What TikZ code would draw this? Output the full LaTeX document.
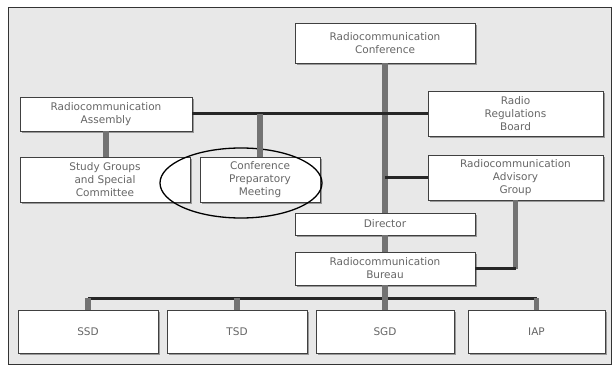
\documentclass[tikz,border=0pt]{standalone}
\usepackage{fontspec}
\setmainfont{DejaVu Sans}
\usepackage{tikz}
\usetikzlibrary{shapes.geometric}
\usetikzlibrary{shadows}

\begin{document}
\begin{tikzpicture}[x=1pt, y=-1pt,
        unit/.style={draw=black!75, line width=0.8pt, fill=white, align=center,
            text=black!60, font=\fontsize{10.5}{13}\selectfont, inner sep=2pt,
            general shadow={fill=black!40, shadow xshift=2pt, shadow yshift=-2pt}},
        link/.style={line width=3pt, black!85},
        stem/.style={line width=5.5pt, black!55}]
        \useasboundingbox (0,0) rectangle (614,369);
        \draw [black!80, line width=1pt, fill=black!9] (8,8) rectangle (611,364);

        \node [unit, minimum width=180pt, minimum height=40pt] (conf) at (385,43) {Radiocommunication\\Conference};
        \node [unit, minimum width=172pt, minimum height=34pt] (assembly) at (106,114) {Radiocommunication\\Assembly};
        \node [unit, minimum width=175pt, minimum height=45pt] (rrb) at (515.5,114) {Radio\\Regulations\\Board};
        \node [unit, minimum width=170pt, minimum height=45pt] (study) at (105,179.5) {Study Groups\\and Special\\Committee};
        \node [unit, minimum width=120pt, minimum height=45pt] (cpm) at (260,179.5) {Conference\\Preparatory\\Meeting};
        \node [unit, minimum width=175pt, minimum height=45pt] (rag) at (515.5,177.5) {Radiocommunication\\Advisory\\Group};
        \node [unit, minimum width=180pt, minimum height=22pt] (director) at (385,224) {Director};
        \node [unit, minimum width=180pt, minimum height=33pt] (bureau) at (385,268.5) {Radiocommunication\\Bureau};
        \node [unit, minimum width=140pt, minimum height=43pt] (ssd) at (88,331.5) {SSD};
        \node [unit, minimum width=140pt, minimum height=43pt] (tsd) at (237,331.5) {TSD};
        \node [unit, minimum width=138pt, minimum height=43pt] (sgd) at (385,331.5) {SGD};
        \node [unit, minimum width=137pt, minimum height=43pt] (iap) at (536.5,331.5) {IAP};

        % circled meeting
        \node [draw, ellipse, line width=1.3pt, minimum width=162pt, minimum height=70pt] (ring) at (241,183) {};

        \coordinate (bus) at (0,298);

        % upper links
        \draw [stem] (conf.south) -- (director.north);
        \draw [stem] (director.south) -- (bureau.north);
        \draw [link] (assembly.east) -- (rrb.west);
        \draw [stem] (assembly.south) -- (assembly.south |- study.north);
        \draw [stem] (cpm.north |- assembly.east) -- (cpm.north);
        \draw [link] (rag.west) -- (rag.west -| conf.south);
        \draw [stem] (rag.south) -- (rag.south |- bureau.east);
        \draw [link] (rag.south |- bureau.east) -- (bureau.east);

        % departments
        \draw [link] (ssd.north |- bus) -- (iap.north |- bus);
        \draw [stem] (bureau.south) -- (sgd.north);
        \draw [stem] (ssd.north |- bus) -- (ssd.north);
        \draw [stem] (tsd.north |- bus) -- (tsd.north);
        \draw [stem] (iap.north |- bus) -- (iap.north);
    \end{tikzpicture}
\end{document}
